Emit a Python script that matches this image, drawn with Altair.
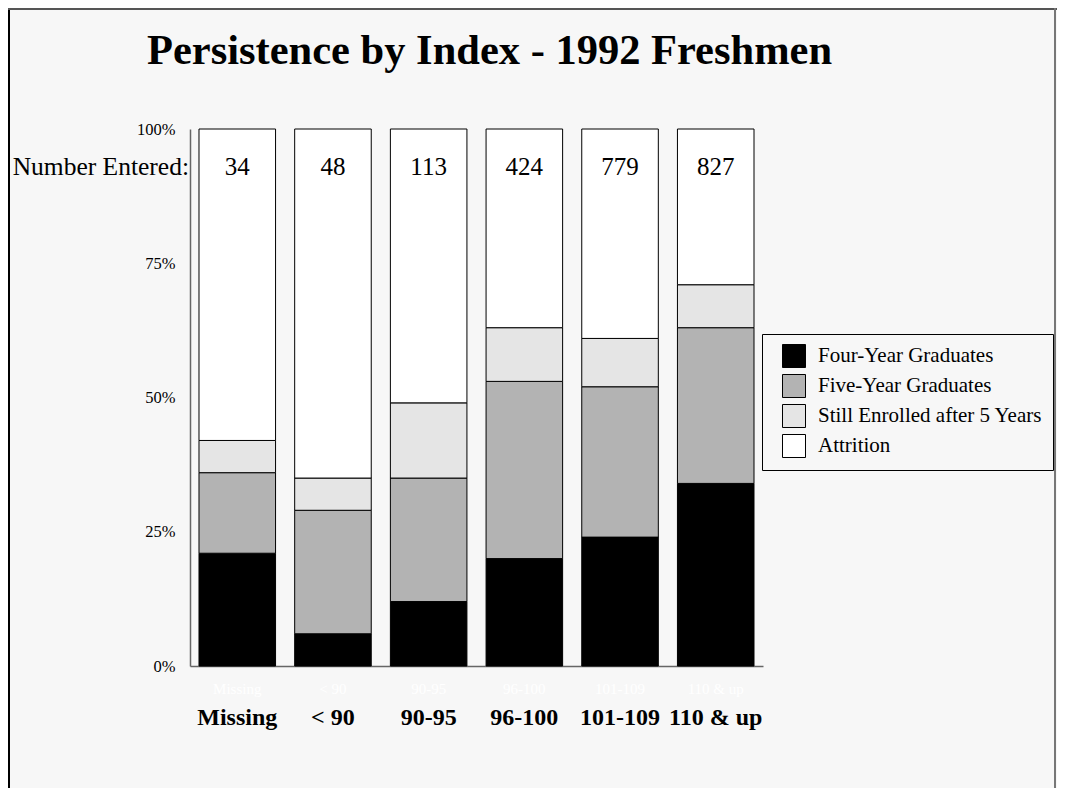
import altair as alt
import pandas as pd

categories = ["Missing", "< 90", "90-95", "96-100", "101-109", "110 & up"]
outcomes = ["Four-Year Graduates", "Five-Year Graduates", "Still Enrolled after 5 Years", "Attrition"]
four_year = [21, 6, 12, 20, 24, 34]
five_year = [15, 23, 23, 33, 28, 29]
still_enrolled = [6, 6, 14, 10, 9, 8]
attrition = [58, 65, 51, 37, 39, 29]
number_entered = [34, 48, 113, 424, 779, 827]
colors = ["#000000", "#b3b3b3", "#e5e5e5", "#ffffff"]

rows = []
for series_i, (name, vals) in enumerate(zip(outcomes, [four_year, five_year, still_enrolled, attrition])):
    for cat, v in zip(categories, vals):
        rows.append({"Index": cat, "Outcome": name, "Percent": v, "order": series_i})
df = pd.DataFrame(rows)
counts_df = pd.DataFrame({"Index": categories, "N": number_entered})

FONT = "Liberation Serif"

x_enc = alt.X(
    "Index:N", sort=categories, title=None,
    scale=alt.Scale(paddingInner=0.2, paddingOuter=0.094),
)

bars = alt.Chart(df).mark_bar(stroke="black", strokeWidth=1).encode(
    x=alt.X(
        "Index:N", sort=categories, title=None,
        scale=alt.Scale(paddingInner=0.2, paddingOuter=0.094),
        axis=alt.Axis(
            labelAngle=0, labelFont=FONT, labelFontSize=24, labelFontWeight="bold",
            labelColor="black", ticks=False, tickSize=0, labelPadding=51,
            labelBaseline="middle", domainColor="#666666", domainWidth=1.5, grid=False,
        ),
    ),
    y=alt.Y(
        "Percent:Q", stack="zero", title=None,
        scale=alt.Scale(domain=[0, 100], nice=False),
        axis=alt.Axis(
            values=[0, 25, 50, 75, 100], labelExpr="datum.value + '%'",
            ticks=False, tickSize=0, labelPadding=15, grid=False,
            labelFont=FONT, labelFontSize=16.5, labelColor="black",
            domainColor="#666666", domainWidth=1.5,
        ),
    ),
    color=alt.Color(
        "Outcome:N", sort=outcomes,
        scale=alt.Scale(domain=outcomes, range=colors),
        legend=alt.Legend(
            orient="none", legendX=572, legendY=205, title=None,
            symbolType="square", symbolSize=529, symbolStrokeColor="black",
            symbolStrokeWidth=1, symbolOffset=10,
            labelFont=FONT, labelFontSize=21, labelColor="black",
            labelOffset=12, rowPadding=2, padding=10, labelLimit=400,
            strokeColor="black", fillColor="#f7f7f7",
        ),
    ),
    order=alt.Order("order:Q"),
)

counts = alt.Chart(counts_df).mark_text(
    font=FONT, fontSize=25, baseline="middle", color="black"
).encode(x=x_enc, y=alt.value(38), text="N:Q")

ghost = alt.Chart(counts_df).mark_text(
    font=FONT, fontSize=15, baseline="middle", color="white"
).encode(x=x_enc, y=alt.value(560), text="Index:N")

one = pd.DataFrame({"t": ["Number Entered:"]})
num_label = alt.Chart(one).mark_text(
    font=FONT, fontSize=25.5, baseline="middle", align="right", color="black"
).encode(x=alt.value(-1), y=alt.value(38), text="t:N")

title_df = pd.DataFrame({"t": ["Persistence by Index - 1992 Freshmen"]})
title = alt.Chart(title_df).mark_text(
    font=FONT, fontSize=42.5, fontWeight="bold", baseline="alphabetic", align="left", color="black"
).encode(x=alt.value(-43), y=alt.value(-65), text="t:N")

frame_df = pd.DataFrame({"k": [0]})
left_line = alt.Chart(frame_df).mark_rule(color="black", strokeWidth=2).encode(
    x=alt.value(-181), y=alt.value(-121), y2=alt.value(660))
top_line = alt.Chart(frame_df).mark_rule(color="#555555", strokeWidth=2).encode(
    x=alt.value(-182), x2=alt.value(867), y=alt.value(-120))
right_line = alt.Chart(frame_df).mark_rule(color="#777777", strokeWidth=2).encode(
    x=alt.value(865), y=alt.value(-121), y2=alt.value(660))

chart = alt.layer(
    bars, counts, ghost, num_label, title, left_line, top_line, right_line
).properties(
    width=573, height=537,
    padding={"left": 182, "top": 121, "right": 294, "bottom": 122},
    autosize=alt.AutoSizeParams(type="none"),
    background="#f7f7f7",
).configure_view(stroke=None)

chart.save("out.html", embed_options={"renderer": "svg", "actions": False})
